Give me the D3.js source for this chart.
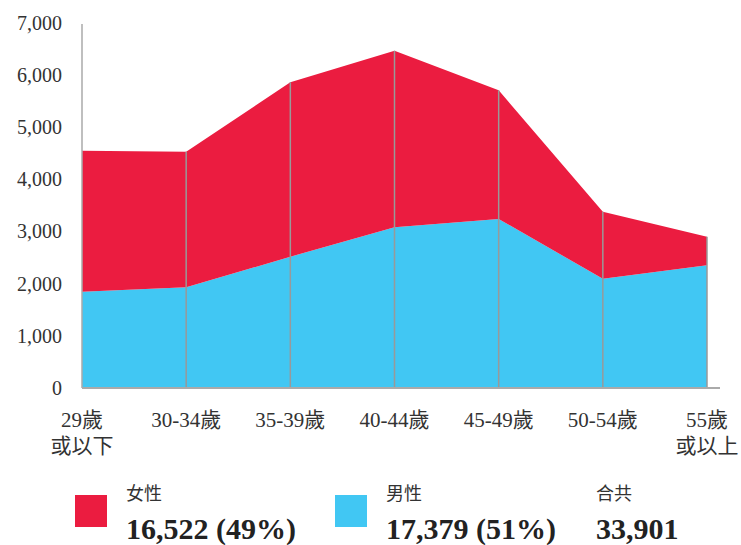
<!DOCTYPE html>
<html>
<head>
<meta charset="utf-8">
<script src="https://cdn.jsdelivr.net/npm/d3@7"></script>
<style>
  body { margin: 0; background: #fff; }
  svg { display: block; }
</style>
</head>
<body>
<div id="chart"></div>
<script>
// age groups, first line / second line of each label
const ageGroups = ['29', '30-34', '35-39', '40-44', '45-49', '50-54', '55'];
const ageLabels = [['29歲', '或以下'], ['30-34歲'], ['35-39歲'], ['40-44歲'], ['45-49歲'], ['50-54歲'], ['55歲', '或以上']];
const maleValues = [1847, 1931, 2518, 3082, 3241, 2096, 2353];
const femaleValues = [2703, 2600, 3345, 3388, 2469, 1285, 549];
const yTicks = [0, 1000, 2000, 3000, 4000, 5000, 6000, 7000];

// legend texts
const legendNames = ['女性', '男性', '合共'];
const legendValues = ['16,522 (49%)', '17,379 (51%)', '33,901'];

const colors = { male: '#41c7f3', female: '#eb1c40' };

const svgWidth = 741, svgHeight = 545;
const margin = { top: 23, right: 34, bottom: 157, left: 82 };
const width = svgWidth - margin.left - margin.right;
const height = svgHeight - margin.top - margin.bottom;

const serif = '"Liberation Serif", "Noto Sans CJK TC", serif';

const svg = d3.select('#chart').append('svg')
    .attr('width', svgWidth)
    .attr('height', svgHeight);

const g = svg.append('g')
    .attr('transform', `translate(${margin.left},${margin.top})`);

const rows = ageGroups.map((a, i) => ({ age: a, male: maleValues[i], female: femaleValues[i] }));

const xScale = d3.scalePoint().domain(ageGroups).range([0, 625]);
const yScale = d3.scaleLinear().domain([0, 7000]).range([height, 0]);

const stack = d3.stack().keys(['male', 'female']);
const series = stack(rows);

const area = d3.area()
    .x(d => xScale(d.data.age))
    .y0(d => yScale(d[0]))
    .y1(d => yScale(d[1]));

g.selectAll('.area')
    .data(series)
    .enter().append('path')
    .attr('class', 'area')
    .attr('fill', d => colors[d.key])
    .attr('d', area);

// vertical lines, baseline up to total
g.selectAll('.vline')
    .data(rows.slice(1))
    .enter().append('line')
    .attr('class', 'vline')
    .attr('x1', d => xScale(d.age))
    .attr('x2', d => xScale(d.age))
    .attr('y1', height)
    .attr('y2', d => yScale(d.male + d.female))
    .attr('stroke', '#999')
    .attr('stroke-width', 1.5);

// y axis line
g.append('line')
    .attr('x1', 0).attr('x2', 0)
    .attr('y1', 1).attr('y2', height)
    .attr('stroke', '#aaa')
    .attr('stroke-width', 1.5);

// baseline
g.append('line')
    .attr('x1', 0).attr('x2', 638)
    .attr('y1', height).attr('y2', height)
    .attr('stroke', '#aaa')
    .attr('stroke-width', 2);

const yAxis = d3.axisLeft(yScale)
    .tickValues(yTicks)
    .tickSize(0)
    .tickPadding(20)
    .tickFormat(d3.format(','));

const yAxisGroup = g.append('g').call(yAxis);
yAxisGroup.select('.domain').remove();
yAxisGroup.selectAll('text')
    .attr('fill', '#333')
    .style('font-family', serif)
    .style('font-size', '20px');

// x labels
const xLabels = g.append('g').attr('class', 'x-labels');
ageLabels.forEach((lines, i) => {
    const t = xLabels.append('text')
        .attr('x', xScale(ageGroups[i]))
        .attr('y', height + 39)
        .attr('text-anchor', 'middle')
        .attr('fill', '#333')
        .style('font-family', serif)
        .style('font-size', '21px');
    lines.forEach((line, j) => {
        t.append('tspan')
            .attr('x', xScale(ageGroups[i]))
            .attr('dy', j === 0 ? 0 : 26)
            .text(line);
    });
});

// legend
const legendX = [126, 386, 596];
const legendColors = [colors.female, colors.male, null];
const legend = svg.append('g').attr('class', 'legend');
legendNames.forEach((name, i) => {
    if (legendColors[i]) {
        legend.append('rect')
            .attr('x', legendX[i] - 51)
            .attr('y', 495)
            .attr('width', 32)
            .attr('height', 32)
            .attr('fill', legendColors[i]);
    }
    legend.append('text')
        .attr('x', legendX[i])
        .attr('y', 500)
        .attr('fill', '#333')
        .style('font-family', '"Noto Sans CJK TC", sans-serif')
        .style('font-size', '18px')
        .text(name);
    legend.append('text')
        .attr('x', legendX[i])
        .attr('y', 539)
        .attr('fill', '#222')
        .style('font-family', '"Liberation Serif", serif')
        .style('font-weight', 'bold')
        .style('font-size', '30px')
        .text(legendValues[i]);
});
</script>
</body>
</html>
